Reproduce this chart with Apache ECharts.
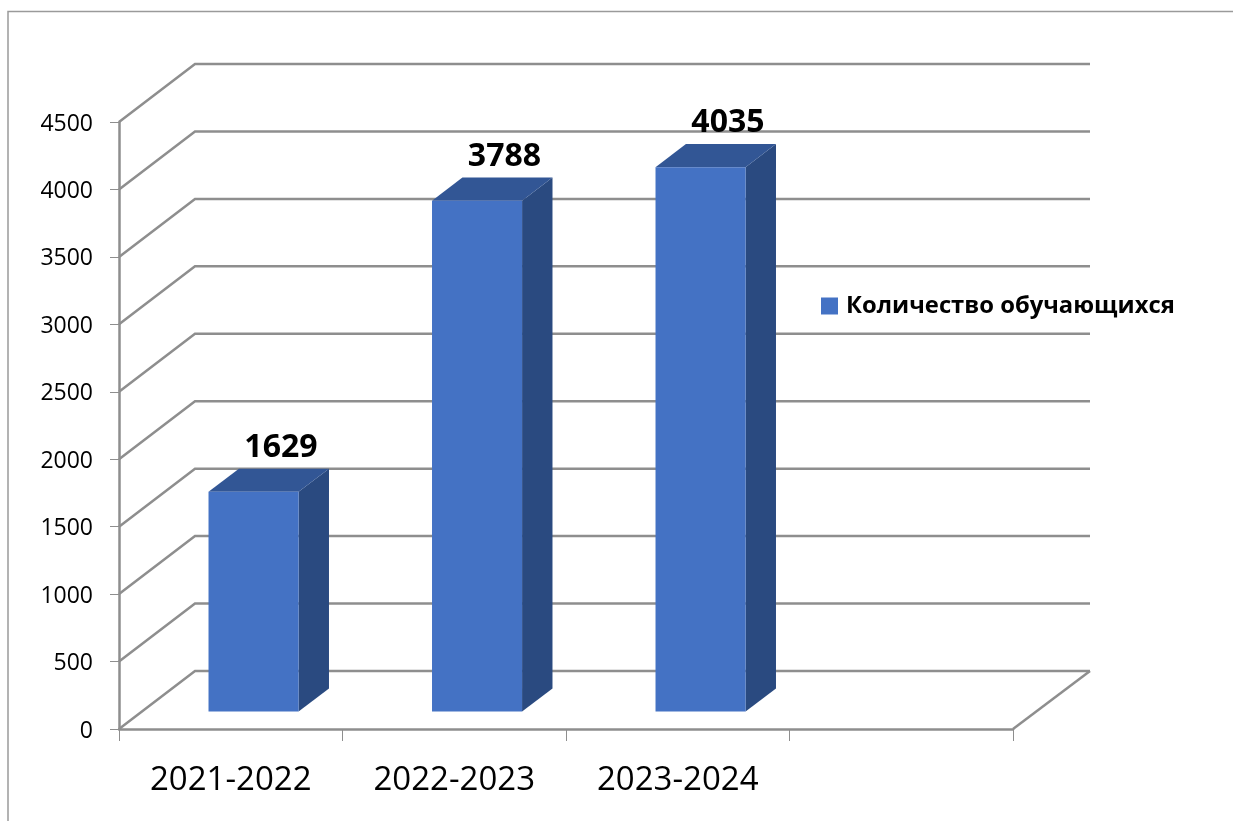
<!DOCTYPE html>
<html>
<head>
<meta charset="utf-8">
<title>Количество обучающихся</title>
<script src="https://cdn.jsdelivr.net/npm/echarts@6/dist/echarts.min.js"></script>
<style>
  html, body { margin: 0; padding: 0; background: #fff; }
  #main { width: 1233px; height: 821px; }
</style>
</head>
<body>
<div id="main"></div>
<script>
var seriesName = 'Количество обучающихся';
var categories = ['2021-2022', '2022-2023', '2023-2024', ''];
var students = [1629, 3788, 4035];
var yTicks = [0, 500, 1000, 1500, 2000, 2500, 3000, 3500, 4000, 4500];

var gridColor = '#8e8e8e';
var font = '"Open Sans", "Noto Sans", sans-serif';
// depth of the fake 3d box, in pixels
var depthX = 76, depthY = 58;

var chart = echarts.init(document.getElementById('main'));

function renderWall(params, api) {
  var cs = params.coordSys;
  var p = api.coord([0, api.value(0)]);
  var left = cs.x, right = cs.x + cs.width;
  var children = [{
    type: 'polyline',
    shape: { points: [[left, p[1]], [left + depthX, p[1] - depthY], [right + depthX + 1, p[1] - depthY]] },
    style: { fill: null, stroke: gridColor, lineWidth: 2.5 }
  }];
  if (api.value(0) === 0) {
    children.push({
      type: 'line',
      shape: { x1: right, y1: p[1], x2: right + depthX + 1, y2: p[1] - depthY },
      style: { stroke: gridColor, lineWidth: 2.5 }
    });
  }
  return { type: 'group', children: children };
}

function renderBar(params, api) {
  var top = api.coord([api.value(0), api.value(1)]);
  var base = api.coord([api.value(0), 0]);
  var w = api.size([1, 0])[0] * 0.403;
  // bar stands inside the floor, between these depth fractions
  var dx = depthX * 0.3, dy = depthY * 0.3;
  var sx = depthX * 0.4, sy = depthY * 0.4;
  var x0 = top[0] + dx - w / 2, x1 = x0 + w;
  var yt = top[1] - dy, yb = base[1] - dy;
  return {
    type: 'group',
    children: [{
      type: 'polygon',
      shape: { points: [[x1, yt], [x1 + sx, yt - sy], [x1 + sx, yb - sy], [x1, yb]] },
      style: { fill: '#2a4a80' }
    }, {
      type: 'polygon',
      shape: { points: [[x0, yt], [x0 + sx, yt - sy], [x1 + sx, yt - sy], [x1, yt]] },
      style: { fill: '#325695' }
    }, {
      type: 'rect',
      shape: { x: x0, y: yt, width: w, height: yb - yt },
      style: { fill: '#4472c4' }
    }, {
      type: 'text',
      style: {
        x: x0 + w / 2 + sx - 3,
        y: yt - sy - 5,
        text: String(api.value(1)),
        align: 'center',
        verticalAlign: 'bottom',
        font: 'bold 32px ' + font,
        fill: '#000'
      }
    }]
  };
}

var option = {
  animation: false,
  backgroundColor: '#fff',
  textStyle: { fontFamily: font },
  grid: { left: 119, right: 220, top: 122, bottom: 92 },
  legend: {
    left: 816,
    top: 289,
    icon: 'rect',
    itemWidth: 17,
    itemHeight: 17,
    itemGap: 0,
    selectedMode: false,
    data: [{ name: seriesName, itemStyle: { color: '#4472c4' } }],
    textStyle: { color: '#000', fontWeight: 'bold', fontSize: 23.8, fontFamily: font, padding: [0, 0, 0, 3] }
  },
  xAxis: {
    type: 'category',
    data: categories,
    axisLine: { lineStyle: { color: gridColor, width: 2.5 } },
    axisTick: { show: true, length: 12, lineStyle: { color: gridColor, width: 1 } },
    axisLabel: { color: '#000', fontSize: 33, margin: 35, fontFamily: font }
  },
  yAxis: {
    type: 'value',
    min: 0,
    max: 4500,
    interval: 500,
    axisLine: { show: true, lineStyle: { color: gridColor, width: 2.5 } },
    axisTick: { show: true, length: 9, lineStyle: { color: gridColor, width: 1 } },
    axisLabel: {
      margin: 26,
      formatter: function (v) { return '{v|' + v + '}'; },
      rich: {
        v: { color: '#000', fontSize: 23, fontFamily: font, padding: [4, 0, 0, 0] }
      }
    },
    splitLine: { show: false }
  },
  graphic: [{
    type: 'polyline',
    silent: true,
    shape: { points: [[8, 821], [8, 11.5], [1233, 11.5]] },
    style: { fill: null, stroke: '#9a9a9a', lineWidth: 1.5 }
  }],
  series: [{
    type: 'custom',
    silent: true,
    data: yTicks.map(function (v) { return [v]; }),
    encode: { y: 0 },
    renderItem: renderWall,
    z: 1
  }, {
    type: 'custom',
    name: seriesName,
    silent: true,
    data: students.map(function (v, i) { return [i, v]; }),
    encode: { x: 0, y: 1 },
    renderItem: renderBar,
    itemStyle: { color: '#4472c4' },
    z: 3
  }]
};
chart.setOption(option);
</script>
</body>
</html>
